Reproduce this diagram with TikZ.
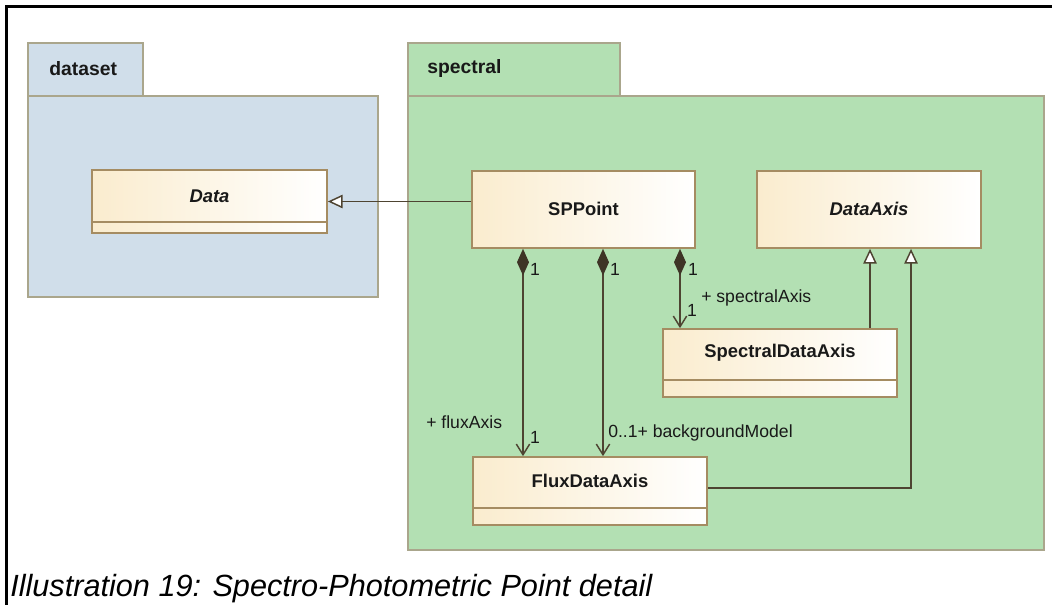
\documentclass[tikz,border=0pt]{standalone}
\usepackage{fontspec}
\setmainfont{Liberation Sans}
\usetikzlibrary{arrows.meta,fit,calc}
\definecolor{pkgblue}{RGB}{208,222,234}
\definecolor{pkggreen}{RGB}{179,224,179}
\definecolor{pkgborder}{RGB}{170,166,140}
\definecolor{clsleft}{RGB}{250,236,206}
\definecolor{clsborder}{RGB}{165,140,98}
\definecolor{linec}{RGB}{78,68,50}
\definecolor{diamc}{RGB}{62,52,38}
\definecolor{txtc}{RGB}{25,25,25}
\begin{document}
\begin{tikzpicture}[x=0.75pt,y=-0.75pt,
  pkg/.style={draw=pkgborder, fill=#1, line width=1.5pt, inner sep=0pt},
  pkgname/.style={font=\fontsize{14.5pt}{16pt}\selectfont\bfseries, text=txtc, inner sep=0pt},
  cls/.style={draw=clsborder, left color=clsleft, right color=white, line width=1.3pt, inner sep=0pt},
  clsname/.style={font=\fontsize{13.8pt}{16pt}\selectfont\bfseries, text=txtc, inner sep=0pt},
  divider/.style={draw=clsborder, line width=1.3pt},
  lbl/.style={font=\fontsize{13.2pt}{15pt}\selectfont, text=txtc, inner sep=0pt},
  comp/.style={draw=linec, line width=1.1pt,
    {Diamond[length=20pt,width=9pt,fill=diamc,color=diamc]}-{Straight Barb[length=8pt,width=10pt]}},
  gen/.style={draw=linec, line width=1.1pt, -{Triangle[open,length=11pt,width=10pt,fill=white]}},
  frame/.style={draw=black, line width=1.6pt},
  captxt/.style={font=\fontsize{23pt}{26pt}\selectfont\itshape, text=black, inner sep=0pt}
]
\useasboundingbox (0,0) rectangle (1052,605);
\fill[white] (0,0) rectangle (1052,605);
% outer frame
\draw[frame] (1052,6.5) -- (6.5,6.5) -- (6.5,605);

% package dataset
\node[pkg=pkgblue, fit={(28,43)(143,96)}] (dstab) {};
\node[pkg=pkgblue, fit={(28,96)(378,297)}] (dsbody) {};
\node[pkgname, anchor=west] (dsname) at (49,69) {dataset};

% package spectral
\node[pkg=pkggreen, fit={(408,43)(620,96)}] (sptab) {};
\node[pkg=pkggreen, fit={(408,96)(1044,550)}] (spbody) {};
\node[pkgname, anchor=west] (spname) at (427,69) {spectral};

% classes
\node[cls, fit={(92,170)(327,233)}] (data) {};
\draw[divider] ([yshift=9pt]data.south west) -- ([yshift=9pt]data.south east);
\node[clsname] (dataname) at (209.5,196) {\itshape Data};

\node[cls, fit={(472,171)(695,248)}] (sp) {};
\node[clsname] (spname2) at (583.5,208.5) {SPPoint};

\node[cls, fit={(757,171)(981,248)}] (da) {};
\node[clsname] (daname) at (869,208.5) {\itshape DataAxis};

\node[cls, fit={(663,329)(897,397)}] (spec) {};
\draw[divider] ([yshift=13.5pt]spec.south west) -- ([yshift=13.5pt]spec.south east);
\node[clsname] (specname) at (780,353) {SpectralDataAxis};

\node[cls, fit={(473,457)(707,525)}] (flux) {};
\draw[divider] ([yshift=13.5pt]flux.south west) -- ([yshift=13.5pt]flux.south east);
\node[clsname] (fluxname) at (590,481) {FluxDataAxis};

% generalizations
\draw[gen] (sp.west |- data.east) -- (data.east);
\draw[gen] ([xshift=67.5pt]spec.north) -- ([xshift=67.5pt]spec.north |- da.south);
\draw[gen] ([yshift=2.25pt]flux.east) -| ([xshift=31.5pt]da.south);

% compositions
\draw[comp] ([xshift=-45.375pt]sp.south) -- ([xshift=-45.375pt]sp.south |- flux.north);
\draw[comp] ([xshift=14.625pt]sp.south) -- ([xshift=14.625pt]sp.south |- flux.north);
\draw[comp] ([xshift=72.375pt]sp.south) -- ([xshift=72.375pt]sp.south |- spec.north);

% multiplicities and roles
\node[lbl] (m1) at (535,269) {1};
\node[lbl] (m2) at (615,269) {1};
\node[lbl] (m3) at (693,269) {1};
\node[lbl] (m4) at (692,310) {1};
\node[lbl, anchor=west] (r1) at (701,298) {+ spectralAxis};
\node[lbl, anchor=west] (r2) at (426,422) {+ fluxAxis};
\node[lbl] (m5) at (535,437) {1};
\node[lbl, anchor=west] (r3) at (608,433) {0..1+ backgroundModel};

% caption
\node[captxt, anchor=base west] (cap) at (10,596) {Illustration 19: Spectro-Photometric Point detail};
\end{tikzpicture}
\end{document}
